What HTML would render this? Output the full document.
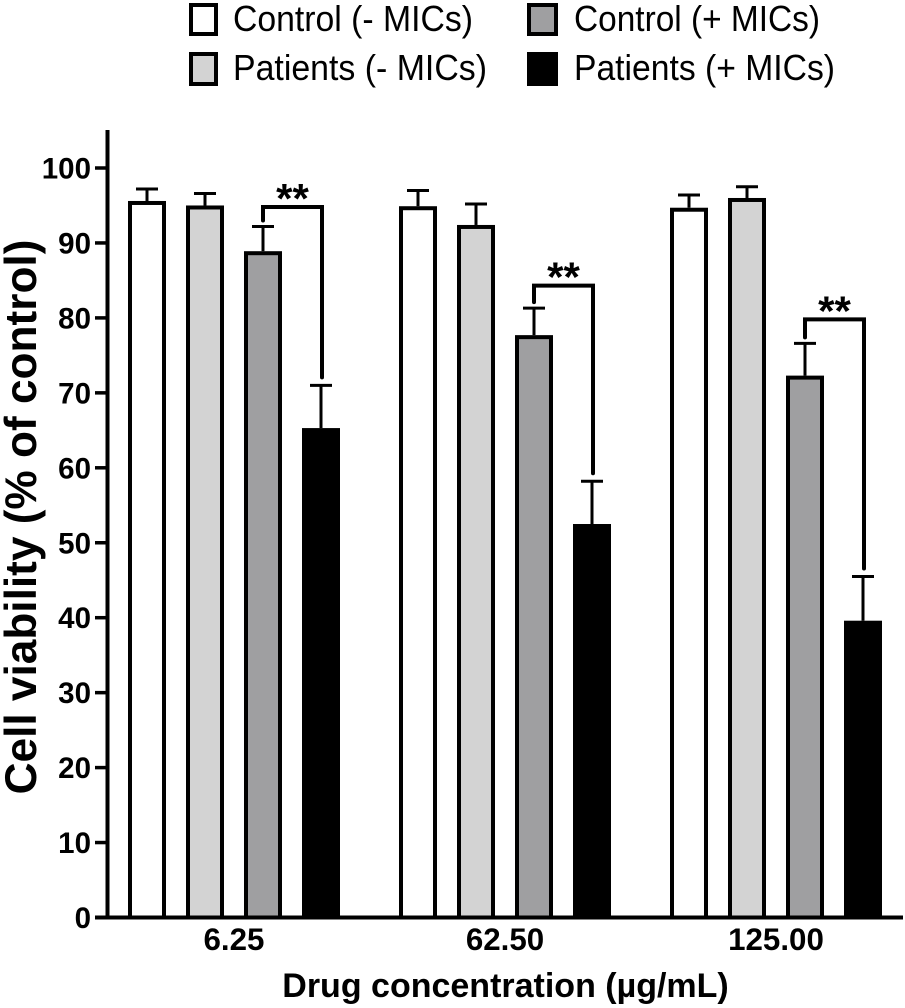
<!DOCTYPE html>
<html lang="en">
<head>
<meta charset="utf-8">
<title>Cell viability chart</title>
<style>
html,body{margin:0;padding:0;background:#fff;}
svg{display:block;}
text{font-family:"Liberation Sans",sans-serif;fill:#000;}
</style>
</head>
<body>
<svg id="chart" width="905" height="1008" viewBox="0 0 905 1008" xmlns="http://www.w3.org/2000/svg">
  <g id="legend">
    <g>
      <rect x="191" y="5" width="25" height="29" fill="#fff" stroke="#000" stroke-width="4"/>
      <text x="233" y="31" font-size="36" textLength="240" lengthAdjust="spacingAndGlyphs">Control (- MICs)</text>
    </g>
    <g>
      <rect x="529" y="5" width="27" height="29" fill="#9f9fa1" stroke="#000" stroke-width="4"/>
      <text x="574" y="31" font-size="36" textLength="246" lengthAdjust="spacingAndGlyphs">Control (+ MICs)</text>
    </g>
    <g>
      <rect x="191" y="54" width="25" height="30" fill="#d3d3d3" stroke="#000" stroke-width="4"/>
      <text x="233" y="80" font-size="36" textLength="254" lengthAdjust="spacingAndGlyphs">Patients (- MICs)</text>
    </g>
    <g>
      <rect x="529" y="54" width="27" height="30" fill="#000" stroke="#000" stroke-width="4"/>
      <text x="574" y="80" font-size="36" textLength="261" lengthAdjust="spacingAndGlyphs">Patients (+ MICs)</text>
    </g>
  </g>
  <text transform="translate(36 517) rotate(-90)" text-anchor="middle" font-size="44.2" font-weight="bold">Cell viability (% of control)</text>
  <text x="505.5" y="997" text-anchor="middle" font-size="34" font-weight="bold">Drug concentration (µg/mL)</text>
  <g id="plot"></g>
</svg>
<script>
const categories = ['6.25', '62.50', '125.00'];
const seriesNames = ['control-minus', 'patients-minus', 'control-plus', 'patients-plus'];
const controlMinus = [95.6, 94.9, 94.7];
const patientsMinus = [95.0, 92.4, 96.0];
const controlPlus = [88.9, 77.7, 72.3];
const patientsPlus = [65.3, 52.5, 39.6];
const controlMinusErr = [1.6, 2.1, 1.7];
const patientsMinusErr = [1.6, 2.8, 1.5];
const controlPlusErr = [3.3, 3.6, 4.3];
const patientsPlusErr = [5.7, 5.7, 5.9];
const bracketLevels = [94.8, 84.3, 79.8];
const yTicks = [0, 10, 20, 30, 40, 50, 60, 70, 80, 90, 100];
const significance = ['**', '**', '**'];

const SVGNS = 'http://www.w3.org/2000/svg';
const plot = document.getElementById('plot');
const fills = ['#ffffff', '#d3d3d3', '#9f9fa1', '#000000'];
const seriesValues = [controlMinus, patientsMinus, controlPlus, patientsPlus];
const seriesErrors = [controlMinusErr, patientsMinusErr, controlPlusErr, patientsPlusErr];

function yScale(v) { return 917.5 - v * 7.495; }
function xGroup(i) { return 147 + i * 271; }
function xBar(i, s) { return xGroup(i) + s * 58; }

function make(tag, attrs) {
  const el = document.createElementNS(SVGNS, tag);
  for (const k in attrs) el.setAttribute(k, attrs[k]);
  plot.appendChild(el);
  return el;
}

categories.forEach(function (cat, i) {
  seriesNames.forEach(function (name, s) {
    const cx = xBar(i, s);
    const v = seriesValues[s][i];
    const top = yScale(v + seriesErrors[s][i]);
    const barTop = yScale(v);

    const stem = make('line', { x1: cx, x2: cx, y1: top, y2: barTop, stroke: '#000', 'stroke-width': 3 });
    
    

    const cap = make('line', { x1: cx - 11, x2: cx + 11, y1: top, y2: top, stroke: '#000', 'stroke-width': 3 });
    
    

    const bar = make('rect', {
      x: cx - 17, y: barTop + 2, width: 34, height: yScale(0) - barTop - 2,
      fill: fills[s], stroke: '#000', 'stroke-width': 4
    });
    
    
  });

  const xl = xBar(i, 2);
  const xr = xBar(i, 3) + 1;
  const by = yScale(bracketLevels[i]);
  const leftEnd = yScale(controlPlus[i] + controlPlusErr[i]) - 6;
  const rightEnd = yScale(patientsPlus[i] + patientsPlusErr[i]) - 8;
  const bracket = make('path', {
    d: 'M' + xl + ' ' + leftEnd + 'V' + by + 'H' + xr + 'V' + rightEnd,
    fill: 'none', stroke: '#000', 'stroke-width': 4, 'stroke-linecap': 'round'
  });
  
  

  const star = make('text', { x: (xl + xr) / 2, y: by + 6, 'text-anchor': 'middle', 'font-size': 42, 'font-weight': 'bold' });
  star.textContent = significance[i];
  
  

  const lbl = make('text', { x: xBar(i, 1) + 29, y: 950, 'text-anchor': 'middle', 'font-size': 31.3, 'font-weight': 'bold' });
  lbl.textContent = cat;
  
  
});

const yAxis = make('line', { x1: 107.5, x2: 107.5, y1: 130, y2: 919.5, stroke: '#000', 'stroke-width': 4 });



const xAxis = make('line', { x1: 95, x2: 903, y1: yScale(0), y2: yScale(0), stroke: '#000', 'stroke-width': 4 });



yTicks.forEach(function (t) {
  const y = yScale(t);
  const tick = make('line', { x1: 95, x2: 107, y1: y, y2: y, stroke: '#000', 'stroke-width': 3.5 });
  
  

  const label = make('text', { x: 91, y: y + 10.5, 'text-anchor': 'end', 'font-size': 29.5, 'font-weight': 'bold' });
  label.textContent = String(t);
  
  
});
</script>
</body>
</html>
